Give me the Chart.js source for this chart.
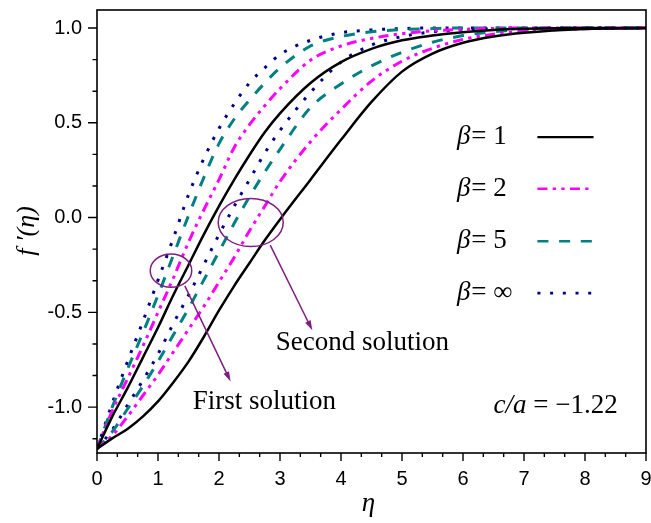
<!DOCTYPE html>
<html>
<head>
<meta charset="utf-8">
<script src="https://cdn.jsdelivr.net/npm/chart.js@4.4.0/dist/chart.umd.min.js"></script>
<style>
  html, body { margin: 0; padding: 0; background: #ffffff; }
</style>
</head>
<body>
<canvas id="flow_chart" width="651" height="523"></canvas>
<script>
/*
    f'(eta) profiles for c/a = -1.22,
    first and second solutions for each beta.
*/

// data
const eta = [0, 0.25, 0.5, 0.75, 1, 1.25, 1.5, 1.75, 2, 2.25, 2.5, 2.75, 3, 3.5, 4, 4.5, 5, 5.5, 6, 6.5, 7, 8, 9];
const betaLabels = ['1', '2', '5', '\u221E'];

const firstBeta1  = [-1.22, -1.05, -0.90, -0.74, -0.58, -0.41, -0.25, -0.09, 0.06, 0.20, 0.33, 0.45, 0.55, 0.71, 0.82, 0.89, 0.935, 0.96, 0.978, 0.99, 0.996, 1, 1];
const firstBeta2  = [-1.22, -1.02, -0.85, -0.68, -0.50, -0.32, -0.13, 0.04, 0.20, 0.37, 0.49, 0.59, 0.68, 0.83, 0.905, 0.945, 0.97, 0.985, 0.993, 0.998, 1, 1, 1];
const firstBeta5  = [-1.22, -1.00, -0.80, -0.61, -0.41, -0.20, 0.01, 0.21, 0.39, 0.52, 0.62, 0.71, 0.79, 0.905, 0.955, 0.98, 0.992, 0.997, 1, 1, 1, 1, 1];
const firstBetaInf = [-1.22, -0.98, -0.76, -0.55, -0.33, -0.11, 0.12, 0.31, 0.47, 0.60, 0.71, 0.79, 0.86, 0.935, 0.975, 0.99, 0.997, 1, 1, 1, 1, 1, 1];

const secondBeta1  = [-1.22, -1.165, -1.115, -1.05, -0.97, -0.87, -0.76, -0.63, -0.49, -0.36, -0.24, -0.12, -0.01, 0.20, 0.41, 0.61, 0.77, 0.865, 0.922, 0.955, 0.975, 0.995, 1];
const secondBeta2  = [-1.22, -1.15, -1.05, -0.94, -0.83, -0.71, -0.59, -0.47, -0.34, -0.21, -0.07, 0.06, 0.19, 0.40, 0.57, 0.72, 0.825, 0.893, 0.94, 0.967, 0.982, 0.996, 1];
const secondBeta5  = [-1.22, -1.13, -1.01, -0.89, -0.76, -0.62, -0.48, -0.33, -0.18, -0.03, 0.11, 0.24, 0.36, 0.58, 0.705, 0.80, 0.872, 0.925, 0.96, 0.98, 0.992, 1, 1];
const secondBetaInf = [-1.22, -1.12, -0.99, -0.86, -0.72, -0.56, -0.41, -0.25, -0.09, 0.06, 0.20, 0.34, 0.46, 0.66, 0.82, 0.91, 0.955, 0.98, 0.99, 0.995, 0.998, 1, 1];

const firstSets  = [firstBeta1, firstBeta2, firstBeta5, firstBetaInf];
const secondSets = [secondBeta1, secondBeta2, secondBeta5, secondBetaInf];

// styles per beta
const colors = ['#000000', '#ff00ff', '#008080', '#00008b'];
const dashes = [[], [10, 5.3, 3.3, 5.3, 3.3, 5.3], [11, 10.7], [3, 9.7]];
const widths = [2.5, 3, 3, 3];

const serif = "'Liberation Serif', 'Times New Roman', serif";
const sans = "'Liberation Sans', Arial, sans-serif";
const purple = '#7e1e80';


function toPoints(ys) {
    return eta.map(function (e, i) { return {x: e, y: ys[i]}; });
}

var datasets = [];
for (var i = 0; i < 4; i++) {
    [firstSets[i], secondSets[i]].forEach(function (ys, k) {
        datasets.push({
            label: '\u03B2 = ' + betaLabels[i] + (k ? ' (second)' : ' (first)'),
            data: toPoints(ys),
            borderColor: colors[i],
            borderWidth: widths[i],
            borderDash: dashes[i],
            fill: false,
            pointRadius: 0,
            cubicInterpolationMode: 'monotone',
        });
    });
}


// frame, ticks, titles, legend and annotations
const decorPlugin = {
    id: 'decor',
    afterDraw(chart) {
        const ctx = chart.ctx;
        const a = chart.chartArea;
        const x = chart.scales.x, y = chart.scales.y;
        const X = v => x.getPixelForValue(v);
        const Y = v => y.getPixelForValue(v);

        ctx.save();

        // box
        ctx.strokeStyle = '#000';
        ctx.lineWidth = 1.6;
        ctx.strokeRect(a.left, a.top, a.right - a.left, a.bottom - a.top);

        // x ticks (minor every 1/3)
        ctx.lineWidth = 1.4;
        ctx.beginPath();
        for (var t = 0; t <= 27; t++) {
            var px = X(t / 3);
            ctx.moveTo(px, a.bottom);
            ctx.lineTo(px, a.bottom + (t % 3 === 0 ? 8 : 4));
        }
        // y ticks (minor every 1/6)
        for (var s = -7; s <= 6; s++) {
            var v = s / 6;
            if (v < y.min || v > y.max) continue;
            var py = Y(v);
            ctx.moveTo(a.left, py);
            ctx.lineTo(a.left - (s % 3 === 0 ? 9 : 4.5), py);
        }
        ctx.stroke();

        // axis titles
        ctx.fillStyle = '#000';
        ctx.font = 'italic 27px ' + serif;
        ctx.textAlign = 'center';
        ctx.textBaseline = 'alphabetic';
        ctx.fillText('\u03B7', (a.left + a.right) / 2 - 3, 511);

        ctx.save();
        ctx.translate(34, 231);
        ctx.rotate(-Math.PI / 2);
        ctx.font = 'italic 26px ' + serif;
        ctx.fillText('f \u2032(\u03B7)', 0, 0);
        ctx.restore();

        // legend
        const rowY = [0.424, 0.152, -0.125, -0.399];
        ctx.textAlign = 'left';
        for (var i = 0; i < 4; i++) {
            var ly = Y(rowY[i]);
            var lx = X(5.9);
            ctx.font = 'italic 27px ' + serif;
            ctx.fillText('\u03B2', lx, ly + 7);
            lx += ctx.measureText('\u03B2').width + 1;
            ctx.font = '27px ' + serif;
            ctx.fillText('= ' + betaLabels[i], lx, ly + 7);

            ctx.beginPath();
            ctx.strokeStyle = colors[i];
            ctx.lineWidth = widths[i] - 0.3;
            ctx.setLineDash(dashes[i]);
            ctx.moveTo(X(7.22), ly);
            ctx.lineTo(X(8.14), ly);
            ctx.stroke();
        }
        ctx.setLineDash([]);

        // labels
        ctx.fillStyle = '#000';
        ctx.font = '27px ' + serif;
        ctx.fillText('Second solution', X(2.93), Y(-0.70));
        ctx.fillText('First solution', X(1.57), Y(-1.008));

        var cx = X(6.5), cy = Y(-1.03);
        ctx.font = 'italic 27px ' + serif;
        ctx.fillText('c/a', cx, cy);
        cx += ctx.measureText('c/a').width;
        ctx.font = '27px ' + serif;
        ctx.fillText(' = \u22121.22', cx, cy);

        // ellipses and arrows
        ctx.strokeStyle = purple;
        ctx.fillStyle = purple;
        ctx.lineWidth = 1.5;
        [[1.213, -0.28, 0.34, 0.088], [2.52, -0.026, 0.533, 0.127]].forEach(function (e) {
            ctx.beginPath();
            ctx.ellipse(X(e[0]), Y(e[1]), X(e[0] + e[2]) - X(e[0]), Y(e[1]) - Y(e[1] + e[3]), 0, 0, 2 * Math.PI);
            ctx.stroke();
        });
        [[1.44, -0.36, 2.19, -0.865], [2.84, -0.145, 3.53, -0.595]].forEach(function (r) {
            var x0 = X(r[0]), y0 = Y(r[1]), x1 = X(r[2]), y1 = Y(r[3]);
            var ang = Math.atan2(y1 - y0, x1 - x0);
            ctx.beginPath();
            ctx.moveTo(x0, y0);
            ctx.lineTo(x1 - 6 * Math.cos(ang), y1 - 6 * Math.sin(ang));
            ctx.stroke();
            ctx.beginPath();
            ctx.moveTo(x1, y1);
            ctx.lineTo(x1 - 10 * Math.cos(ang) + 3 * Math.sin(ang), y1 - 10 * Math.sin(ang) - 3 * Math.cos(ang));
            ctx.lineTo(x1 - 10 * Math.cos(ang) - 3 * Math.sin(ang), y1 - 10 * Math.sin(ang) + 3 * Math.cos(ang));
            ctx.closePath();
            ctx.fill();
        });

        ctx.restore();
    }
};


var ctx = document.getElementById('flow_chart').getContext('2d');

var flow_chart = new Chart(ctx, {
    type: 'line',
    data: { datasets: datasets },
    plugins: [decorPlugin],
    options: {
        responsive: false,
        animation: false,
        devicePixelRatio: 1,
        layout: { padding: { top: 10, right: 5, left: 0, bottom: 0 } },
        plugins: {
            legend: { display: false },
            tooltip: { enabled: false },
        },
        scales: {
            x: {
                type: 'linear',
                min: 0,
                max: 9,
                grid: { display: false, drawTicks: false },
                border: { display: false },
                ticks: {
                    stepSize: 1,
                    maxRotation: 0,
                    padding: 14,
                    color: '#000',
                    font: { family: sans, size: 20 },
                },
                afterFit: function (scale) {
                    scale.height = 70;
                    scale.paddingLeft = 0;
                    scale.paddingRight = 0;
                },
            },
            y: {
                type: 'linear',
                min: -1.242,
                max: 1.095,
                grid: { display: false, drawTicks: false },
                border: { display: false },
                ticks: {
                    stepSize: 0.5,
                    includeBounds: false,
                    padding: 15,
                    color: '#000',
                    font: { family: sans, size: 20 },
                    callback: function (v) { return v.toFixed(1); },
                },
                afterFit: function (scale) {
                    scale.width = 97;
                    scale.paddingTop = 0;
                    scale.paddingBottom = 0;
                },
            },
        },
    },
});
</script>
</body>
</html>
